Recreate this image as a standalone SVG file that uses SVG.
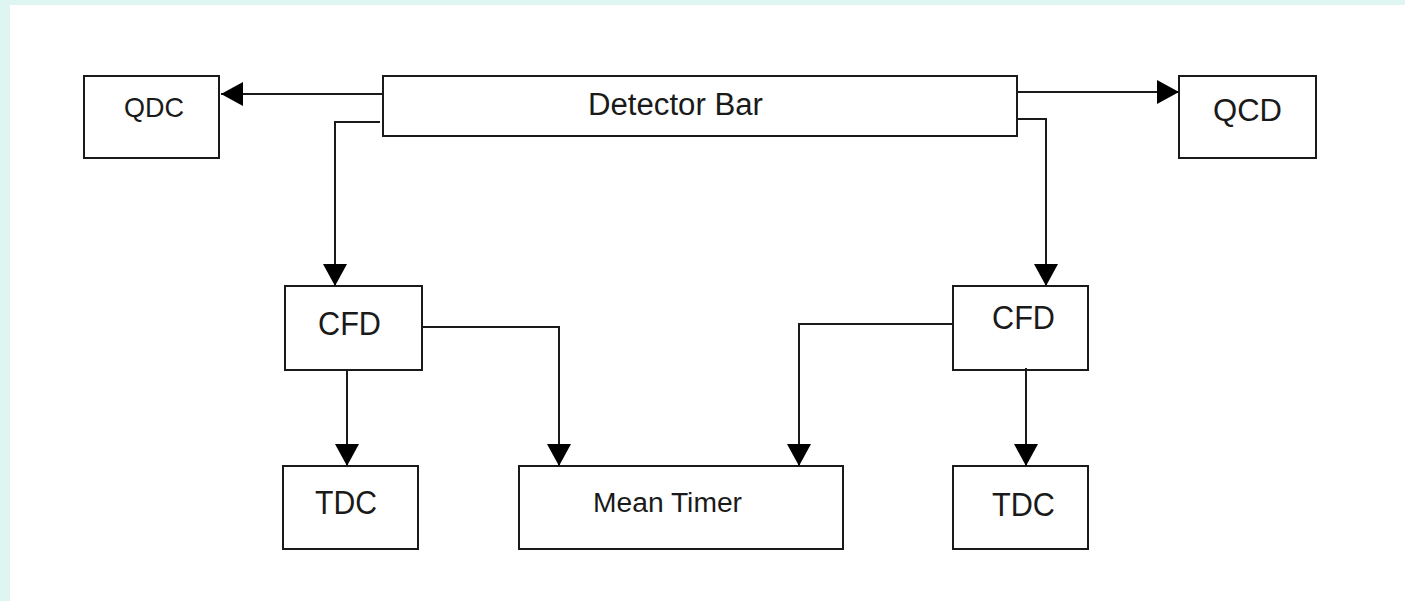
<svg xmlns="http://www.w3.org/2000/svg" width="1405" height="601" viewBox="0 0 1405 601">
  <style>
    .box { fill: #ffffff; stroke: #1a1a1a; stroke-width: 2; }
    .wire { fill: none; stroke: #1a1a1a; stroke-width: 2; }
    .label { font-family: "Liberation Sans", Arial, sans-serif; fill: #1a1a1a; }
  </style>
  <defs>
    <marker id="arrow" markerUnits="userSpaceOnUse" markerWidth="24" markerHeight="24" viewBox="0 0 22 24" refX="22" refY="12" orient="auto">
      <path d="M0,0 L22,12 L0,24 Z" fill="#000000"/>
    </marker>
  </defs>

  <!-- page background -->
  <rect x="0" y="0" width="1405" height="601" fill="#dff5f1"/>
  <rect x="10" y="5" width="1395" height="596" fill="#ffffff"/>

  <g id="detector-bar">
    <rect class="box" x="383" y="76" width="634" height="60"/>
    <text class="label" x="588" y="115" font-size="31" textLength="175" lengthAdjust="spacingAndGlyphs">Detector Bar</text>
  </g>
  <g id="qdc">
    <rect class="box" x="84" y="76" width="135" height="82"/>
    <text class="label" x="124" y="117" font-size="27.5" textLength="60" lengthAdjust="spacingAndGlyphs">QDC</text>
  </g>
  <g id="qcd">
    <rect class="box" x="1179" y="76" width="137" height="82"/>
    <text class="label" x="1213" y="121" font-size="32" textLength="69" lengthAdjust="spacingAndGlyphs">QCD</text>
  </g>
  <g id="cfd-left">
    <rect class="box" x="285" y="286" width="137" height="84"/>
    <text class="label" x="318" y="335" font-size="33" textLength="63" lengthAdjust="spacingAndGlyphs">CFD</text>
  </g>
  <g id="cfd-right">
    <rect class="box" x="953" y="286" width="135" height="84"/>
    <text class="label" x="992" y="329" font-size="33" textLength="63" lengthAdjust="spacingAndGlyphs">CFD</text>
  </g>
  <g id="tdc-left">
    <rect class="box" x="283" y="466" width="135" height="83"/>
    <text class="label" x="315" y="514" font-size="33" textLength="62" lengthAdjust="spacingAndGlyphs">TDC</text>
  </g>
  <g id="mean-timer">
    <rect class="box" x="519" y="466" width="324" height="83"/>
    <text class="label" x="593" y="512" font-size="27" textLength="149" lengthAdjust="spacingAndGlyphs">Mean Timer</text>
  </g>
  <g id="tdc-right">
    <rect class="box" x="953" y="466" width="135" height="83"/>
    <text class="label" x="992" y="516" font-size="33" textLength="63" lengthAdjust="spacingAndGlyphs">TDC</text>
  </g>

  <g id="connectors">
    <path class="wire" d="M383,94 H221" marker-end="url(#arrow)"/>
    <path class="wire" d="M1017,92 H1179" marker-end="url(#arrow)"/>
    <path class="wire" d="M380,122 H335 V286" marker-end="url(#arrow)"/>
    <path class="wire" d="M1017,119 H1046 V286" marker-end="url(#arrow)"/>
    <path class="wire" d="M347,370 V466" marker-end="url(#arrow)"/>
    <path class="wire" d="M422,327 H559 V466" marker-end="url(#arrow)"/>
    <path class="wire" d="M953,324 H799 V466" marker-end="url(#arrow)"/>
    <path class="wire" d="M1026,368 V466" marker-end="url(#arrow)"/>
  </g>
</svg>
